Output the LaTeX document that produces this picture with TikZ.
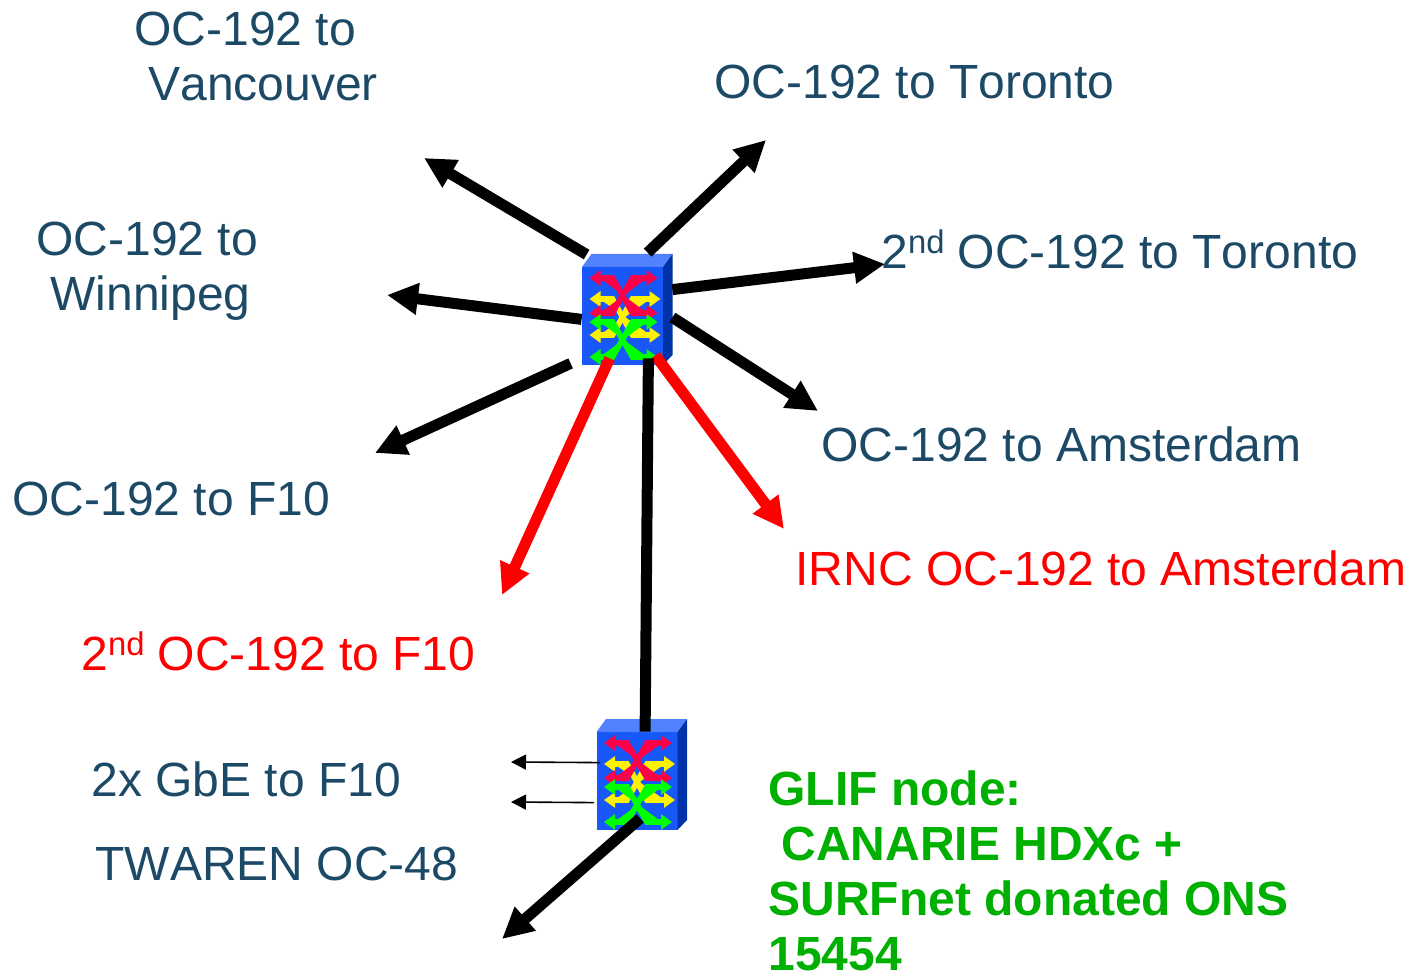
\documentclass[tikz,border=0pt]{standalone}
\usepackage{fontspec}
\setmainfont[Kerning=Off]{Liberation Sans}
\usetikzlibrary{arrows.meta}
\definecolor{cityblue}{HTML}{1C4A66}
\definecolor{glifgreen}{HTML}{00B000}
\definecolor{oxcfront}{HTML}{1858F8}
\definecolor{oxctop}{HTML}{5082FF}
\definecolor{oxcside}{HTML}{0032A8}
\definecolor{oxcred}{HTML}{FF0048}
\newcommand{\ordnd}{\raisebox{7.8pt}{\fontsize{16.4}{16.4}\selectfont nd}}
\newcommand{\crossarrows}[4]{%
  \draw[cross line,draw=#1,fill=#1] (-33,#2) -- (-10,#2) -- (10,#3) -- (#4,#3);
  \draw[cross line,draw=#1,fill=#1] (#4,#2) -- (10,#2) -- (-10,#3) -- (-33,#3);
}
\tikzset{
  oxc box/.style={rectangle,fill=oxcfront,minimum width=40.5pt,minimum height=49pt,inner sep=0pt},
  cross line/.style={line width=2.8pt,{Triangle[length=5.5pt,width=7.5pt]}-{Triangle[length=5.5pt,width=7.5pt]},line join=miter},
  oxc/.pic={
    \fill[oxctop] (-40.5,-49) -- (-31,-62) -- (50,-62) -- (40.5,-49) -- cycle;
    \fill[oxcside] (40.5,-49) -- (50,-62) -- (50,39) -- (40.5,49) -- cycle;
    \crossarrows{yellow}{-17}{19}{38}
    \crossarrows{oxcred}{-38}{-3}{35}
    \crossarrows{green}{6}{41}{35}
  }
}
\begin{document}
\begin{tikzpicture}[x=0.5pt,y=-0.5pt,>={Triangle[length=15.5pt,width=15pt]},
    link/.style={->,line width=5.5pt},
    red link/.style={link,draw=red,fill=red},
    small link/.style={->,>={Triangle[length=7.5pt,width=7.5pt]},line width=0.8pt},
    city text/.style={anchor=north west,inner sep=0pt,align=left,text=cityblue,font=\fontsize{24}{27.5}\selectfont},
    red text/.style={city text,text=red},
    glif text/.style={city text,text=glifgreen,font=\fontsize{24}{27.5}\selectfont\bfseries}]
  \useasboundingbox (0,0) rectangle (1412,972);

  % Switches
  \node[oxc box] (hub) at (622.5,316) {};
  \pic at (hub) {oxc};
  \node[oxc box] (glif) at (637,781) {};
  \pic at (glif) {oxc};

  % Labels
  \node[city text] (vancouver) at (134,11.5) {OC-192 to\\\hspace{7pt}Vancouver};
  \node[city text] (toronto) at (714,65) {OC-192 to Toronto};
  \node[city text] (toronto2) at (881,229) {2\ordnd{} OC-192 to Toronto};
  \node[city text] (winnipeg) at (36,221.5) {OC-192 to\\\hspace{7pt}Winnipeg};
  \node[city text] (amsterdam) at (821,426) {OC-192 to Amsterdam};
  \node[city text] (f10) at (12,482) {OC-192 to F10};
  \node[red text] (irnc) at (795,550) {IRNC OC-192 to Amsterdam};
  \node[red text] (f102) at (81,631) {2\ordnd{} OC-192 to F10};
  \node[city text] (gbe) at (91,761) {2x GbE to F10};
  \node[city text] (twaren) at (95,847) {TWAREN OC-48};
  \node[glif text] (note) at (768,770) {GLIF node:\\\hspace{6.5pt}CANARIE HDXc +\\SURFnet donated ONS\\15454};

  % Free ends
  \coordinate (tipvancouver) at (424,158);
  \coordinate (tiptoronto) at (766,140);
  \coordinate (tiptoronto2) at (885,264);
  \coordinate (tipwinnipeg) at (387,295);
  \coordinate (tipf10) at (375,453);
  \coordinate (tipamsterdam) at (818,411);
  \coordinate (tipirnc) at (784,529);
  \coordinate (tipf102) at (502,595);
  \coordinate (tipgbea) at (511,762);
  \coordinate (tipgbeb) at (511,802);
  \coordinate (tiptwaren) at (502,939);

  % Edges
  \draw[link] ([shift={(5,-12)}]hub.north west) -- (tipvancouver);
  \draw[link] ([shift={(66,-14)}]hub.north west) -- (tiptoronto);
  \draw[link] ([shift={(9,23)}]hub.north east) -- (tiptoronto2);
  \draw[link] ([shift={(0,-46)}]hub.south west) -- (tipwinnipeg);
  \draw[link] ([shift={(-11,-2)}]hub.south west) -- (tipf10);
  \draw[link] ([shift={(9,-48)}]hub.south east) -- (tipamsterdam);
  \draw[red link] ([shift={(28,-7)}]hub.south west) -- (tipf102);
  \draw[red link] ([shift={(-8,-10)}]hub.south east) -- (tipirnc);
  \draw[line width=5.5pt] ([shift={(-15,-7)}]hub.south east) -- ([shift={(49,0)}]glif.north west);
  \draw[small link] ([shift={(4,31)}]glif.north west) -- (tipgbea);
  \draw[small link] ([shift={(-2,71)}]glif.north west) -- (tipgbeb);
  \draw[link] ([shift={(44,-12)}]glif.south west) -- (tiptwaren);
\end{tikzpicture}
\end{document}
